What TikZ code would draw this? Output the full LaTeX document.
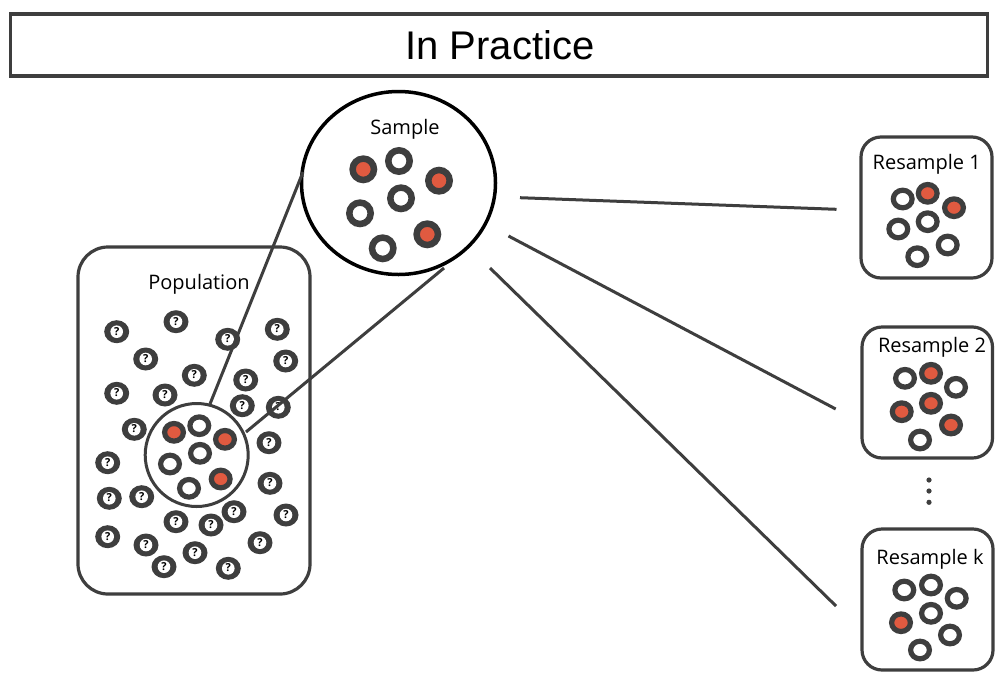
\documentclass[tikz,border=0pt]{standalone}
\usepackage{fontspec}
\usetikzlibrary{shapes.geometric}
\setmainfont{Open Sans}
\newfontfamily\titlefont{Liberation Sans}
\definecolor{ink}{RGB}{62,62,62}
\definecolor{redfill}{RGB}{224,90,64}
\begin{document}
\begin{tikzpicture}[x=1pt,y=-1pt,
  frame/.style={draw=ink,line width=3.2pt,rounded corners=30pt},
  conn/.style={draw=ink,line width=3pt},
  label/.style={anchor=base,font=\fontsize{20}{22}\selectfont,inner sep=0pt},
  qdot/.pic={\fill[ink] (0,0) ellipse [x radius=12.5,y radius=11.5];
             \fill[white] (0,0) circle (6.3);
             \node[font=\fontsize{11}{11}\selectfont\bfseries,inner sep=0pt] at (0,-0.3) {?};},
  bigw/.pic={\draw[ink,line width=6.5pt,fill=white] (0,0) circle (10.7);},
  bigr/.pic={\draw[ink,line width=6.5pt,fill=redfill] (0,0) circle (10.7);},
  smw/.pic={\draw[ink,line width=5.2pt,fill=white] (0,0) ellipse [x radius=9.4,y radius=8.8];},
  smr/.pic={\draw[ink,line width=5.2pt,fill=redfill] (0,0) ellipse [x radius=9.4,y radius=8.8];}]
\useasboundingbox (0,0) rectangle (1008,686);
\fill[white] (0,0) rectangle (1008,686);

% title
\node[draw=ink,line width=3.2pt,minimum width=977pt,minimum height=62pt,inner sep=0pt] (title) at (499,45) {};
\node[anchor=base,inner sep=0pt,font=\titlefont\fontsize{40}{42}\selectfont] (titletext) at (500,59.5) {In Practice};

% population
\draw[frame] (78,247) rectangle (310,594);
\node (pop) at (194,420) {};
\node[label] (poplabel) at (199,289) {Population};
\foreach \x/\y in {116.7/331.7,176/321.7,227.7/339.3,277.3/329.3,145.7/359,285.7/361,194.3/375.3,116.7/393.3,165/395,245.7/380,242.3/405.7,278.3/407.3,134.3/429.3,269/442.7,107.7/462.7,270/483.3,109.3/498.3,141.7/496.7,234/511.7,286/515,176/521.7,211/525,107.7/536.7,146/545,195/552.7,260/542.7,164/566.7,228.3/568.3}
  \pic at (\x,\y) {qdot};

% small circle in population
\node[draw=ink,line width=3pt,circle,minimum size=103pt,inner sep=0pt] (smallc) at (196.7,455) {};
\pic at (174,432.3) {smr};
\pic at (199.3,425.7) {smw};
\pic at (225,439.3) {smr};
\pic at (200,453.3) {smw};
\pic at (170,464) {smw};
\pic at (220.7,479) {smr};
\pic at (189,488.3) {smw};

% sample circle
\node[draw=black,line width=3.5pt,ellipse,minimum width=194pt,minimum height=183pt,inner sep=0pt] (sample) at (398.5,183) {};
\node[label] (samplelabel) at (405,134.3) {Sample};
\pic at (363.3,169.3) {bigr};
\pic at (399,161) {bigw};
\pic at (439,180.7) {bigr};
\pic at (401,198.3) {bigw};
\pic at (360,213.3) {bigw};
\pic at (427.3,234.3) {bigr};
\pic at (382.7,248.3) {bigw};

% connectors population -> sample
\coordinate (p1) at (210,404);
\coordinate (q1) at (303,172);
\coordinate (p2) at (246,432);
\coordinate (q2) at (444,268);
\draw[conn] (p1) -- (q1);
\draw[conn] (p2) -- (q2);

% resample boxes
\draw[frame,rounded corners=20pt] (861,137) rectangle (992,278);
\node (rs1) at (926,207) {};
\node[label] (rs1label) at (926.7,169.3) {Resample 1};
\pic at (902.7,199) {smw};
\pic at (927.7,193.3) {smr};
\pic at (954,207.7) {smr};
\pic at (927.7,221.7) {smw};
\pic at (898.3,229) {smw};
\pic at (947.7,245) {smw};
\pic at (917.3,256.7) {smw};

\draw[frame,rounded corners=20pt] (862,327) rectangle (992.5,458);
\node (rs2) at (927,392) {};
\node[label] (rs2label) at (932,352.7) {Resample 2};
\pic at (905,378.3) {smw};
\pic at (931,373.3) {smr};
\pic at (956,387.3) {smw};
\pic at (931,403.3) {smr};
\pic at (901.7,411.7) {smr};
\pic at (951,425) {smr};
\pic at (920,440) {smw};

\foreach \y [count=\i] in {480,491,502.3} \fill[ink] (929,\y) circle (2.6);

\draw[frame,rounded corners=20pt] (862,529) rectangle (993,670);
\node (rsk) at (927,600) {};
\node[label] (rsklabel) at (930,564) {Resample k};
\pic at (904.3,590) {smw};
\pic at (931,585) {smw};
\pic at (956.7,598.3) {smw};
\pic at (931,613.3) {smw};
\pic at (901,622.7) {smr};
\pic at (950,635) {smw};
\pic at (920,650) {smw};

% connectors sample -> resamples
\coordinate (a1) at (520,197.7);
\coordinate (b1) at (836.5,209.3);
\coordinate (a2) at (508.5,236);
\coordinate (b2) at (835.7,409);
\coordinate (a3) at (490,268);
\coordinate (b3) at (836,606);
\draw[conn] (a1) -- (b1);
\draw[conn] (a2) -- (b2);
\draw[conn] (a3) -- (b3);
\end{tikzpicture}
\end{document}
